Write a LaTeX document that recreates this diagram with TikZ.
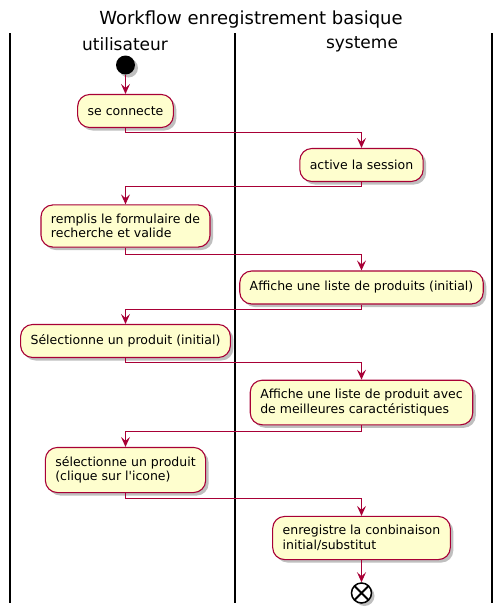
\documentclass[tikz,border=0pt]{standalone}
\usepackage{fontspec}
\setmainfont{DejaVu Sans}
\usetikzlibrary{arrows.meta,shadows}
\definecolor{pumlred}{HTML}{A80036}
\definecolor{pumlfill}{HTML}{FEFECE}
\tikzset{
  act/.style={draw=pumlred, fill=pumlfill, line width=1.1pt, rounded corners=12pt,
    align=left, inner xsep=10pt, inner ysep=9pt, minimum height=33pt,
    font=\fontsize{12.5}{14.5}\selectfont,
    drop shadow={shadow xshift=3pt, shadow yshift=-3pt, opacity=0.25, fill=black}},
  flow/.style={color=pumlred, line width=1pt, -{Stealth[length=10pt,width=9pt,inset=4pt]}},
  lane/.style={draw=black, line width=1.5pt},
  hdr/.style={font=\fontsize{17}{19}\selectfont, inner sep=0pt},
  ttl/.style={font=\fontsize{18}{20}\selectfont, inner sep=0pt},
  startdot/.style={circle, fill=black, minimum size=19pt, inner sep=0pt,
    drop shadow={shadow xshift=3pt, shadow yshift=-3pt, opacity=0.25, fill=black}},
  stopdot/.style={circle, draw=black, fill=white, line width=1.5pt, minimum size=20pt, inner sep=0pt,
    drop shadow={shadow xshift=3pt, shadow yshift=-3pt, opacity=0.25, fill=black},
    path picture={\draw[line width=1.8pt] (path picture bounding box.north west) -- (path picture bounding box.south east)
      (path picture bounding box.north east) -- (path picture bounding box.south west);}}
}
\begin{document}
\begin{tikzpicture}[x=1pt,y=-1pt]
\useasboundingbox (0,0) rectangle (503,613);
\node[ttl] (title) at (251,20) {Workflow enregistrement basique};
\coordinate (l1t) at (10,33); \coordinate (l1b) at (10,603);
\coordinate (l2t) at (235,33); \coordinate (l2b) at (235,603);
\coordinate (l3t) at (492,33); \coordinate (l3b) at (492,603);
\draw[lane] (l1t) -- (l1b);
\draw[lane] (l2t) -- (l2b);
\draw[lane] (l3t) -- (l3b);
\node[hdr] (h1) at (125,44) {utilisateur};
\node[hdr] (h2) at (362,44) {systeme};

\node[startdot] (start) at (125.5,65) {};
\node[act] (a1) at (125.5,111) {se connecte};
\node[act] (a2) at (361.5,165) {active la session};
\node[act] (a3) at (125.5,226) {remplis le formulaire de\\recherche et valide};
\node[act] (a4) at (361.5,287.5) {Affiche une liste de produits (initial)};
\node[act] (a5) at (125.5,341) {Sélectionne un produit (initial)};
\node[act] (a6) at (361.5,402.5) {Affiche une liste de produit avec\\de meilleures caractéristiques};
\node[act] (a7) at (125.5,470) {sélectionne un produit\\(clique sur l\textquotesingle icone)};
\node[act] (a8) at (361.5,538) {enregistre la conbinaison\\initial/substitut};
\node[stopdot] (stop) at (361.5,593) {};

\coordinate (m1) at (0,132.5);
\coordinate (m2) at (0,186.5);
\coordinate (m3) at (0,254.5);
\coordinate (m4) at (0,309.5);
\coordinate (m5) at (0,362.5);
\coordinate (m6) at (0,431.5);
\coordinate (m7) at (0,498.5);

\draw[flow] (start) -- (a1);
\draw[flow] (a1.south) -- (a1.south |- m1) -| (a2.north);
\draw[flow] (a2.south) -- (a2.south |- m2) -| (a3.north);
\draw[flow] (a3.south) -- (a3.south |- m3) -| (a4.north);
\draw[flow] (a4.south) -- (a4.south |- m4) -| (a5.north);
\draw[flow] (a5.south) -- (a5.south |- m5) -| (a6.north);
\draw[flow] (a6.south) -- (a6.south |- m6) -| (a7.north);
\draw[flow] (a7.south) -- (a7.south |- m7) -| (a8.north);
\draw[flow] (a8) -- (stop);
\end{tikzpicture}
\end{document}
